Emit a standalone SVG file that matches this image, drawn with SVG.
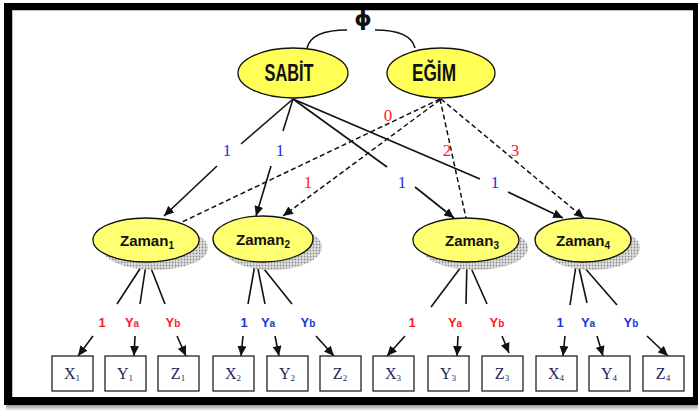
<svg xmlns="http://www.w3.org/2000/svg" width="698" height="411" viewBox="0 0 698 411">
  <style>
    .top { fill: #ffff55; stroke: #111; stroke-width: 1.3; }
    .zam { fill: #ffff72; stroke: #111; stroke-width: 1.3; }
    .shadow { fill: url(#dots); }
    .s { stroke: #111; stroke-width: 1.6; fill: none; }
    .d { stroke: #111; stroke-width: 1.5; fill: none; stroke-dasharray: 5 3; }
    .arr { marker-end: url(#ah); }
    .box { fill: #fff; stroke: #222; stroke-width: 1.3; }
    .big { font-family: "Liberation Sans", Arial, sans-serif; font-weight: bold; font-size: 23px; fill: #111; text-anchor: middle; }
    .zt { font-family: "Liberation Sans", Arial, sans-serif; font-weight: bold; font-size: 15px; fill: #111; text-anchor: middle; }
    .num { font-family: "Liberation Serif", "Times New Roman", serif; font-size: 17px; text-anchor: middle; }
    .lab { font-family: "Liberation Sans", Arial, sans-serif; font-weight: bold; font-size: 13px; text-anchor: middle; }
    .bx { font-family: "Liberation Serif", "Times New Roman", serif; font-size: 16px; fill: #26265c; text-anchor: middle; }
    .red { fill: #ff1a1a; }
    .blue { fill: #2233dd; }
  </style>
  <defs>
    <marker id="ah" markerUnits="userSpaceOnUse" markerWidth="11" markerHeight="9" refX="10" refY="4.5" orient="auto">
      <path d="M0,0 L10,4.5 L0,9 z" fill="#111"/>
    </marker>
    <pattern id="dots" width="3" height="3" patternUnits="userSpaceOnUse">
      <rect width="3" height="3" fill="#e2e2e2"/>
      <circle cx="1.5" cy="1.5" r="0.9" fill="#8a8a8a"/>
    </pattern>
    <linearGradient id="fade" x1="0" y1="0" x2="0" y2="1">
      <stop offset="0" stop-color="#999"/>
      <stop offset="1" stop-color="#fff"/>
    </linearGradient>
  </defs>

  <!-- page frame -->
  <rect width="698" height="411" fill="#fff"/>
  <rect x="6" y="405" width="692" height="6" fill="url(#fade)"/>
  <path d="M4,3 H698 V405 H4 Z M12,10 V397 H693 V10 Z" fill="#000" fill-rule="evenodd"/>
  <path d="M12.5,397 V10.5 H693" fill="none" stroke="#bbb" stroke-width="1"/>

  <!-- connectors -->
  <g id="connectors">
    <!-- phi covariance arc -->
    <path class="s" d="M307,48 C310,36 324,30 347,30"/>
    <path class="s" d="M375,30 C398,30 412,36 415,48"/>

    <!-- SABİT loadings -->
    <line class="s" x1="293" y1="99" x2="241" y2="144"/>
    <line class="s arr" x1="217" y1="166" x2="164" y2="216"/>
    <line class="s" x1="293" y1="99" x2="283" y2="131"/>
    <line class="s arr" x1="271" y1="166" x2="256" y2="216"/>
    <line class="s" x1="293" y1="99" x2="387" y2="167"/>
    <line class="s arr" x1="415" y1="187" x2="454" y2="218"/>
    <line class="s" x1="293" y1="99" x2="480" y2="179"/>
    <line class="s arr" x1="508" y1="192" x2="563" y2="218"/>

    <!-- EĞİM loadings -->
    <line class="d" x1="440" y1="99" x2="182" y2="222"/>
    <line class="d arr" x1="440" y1="100" x2="283" y2="216"/>
    <line class="d" x1="440" y1="99" x2="466" y2="218"/>
    <line class="d arr" x1="441" y1="99" x2="584" y2="218"/>

    <!-- Zaman1 indicators -->
    <line class="s" x1="147" y1="258" x2="117" y2="304"/>
    <line class="s" x1="147" y1="258" x2="140" y2="304"/>
    <line class="s" x1="147" y1="258" x2="165" y2="304"/>
    <line class="s arr" x1="93" y1="336" x2="78" y2="356"/>
    <line class="s arr" x1="135" y1="336" x2="134" y2="356"/>
    <line class="s arr" x1="177" y1="336" x2="186" y2="356"/>

    <!-- Zaman2 indicators -->
    <line class="s" x1="256" y1="259" x2="248" y2="304"/>
    <line class="s" x1="256" y1="259" x2="265" y2="304"/>
    <line class="s" x1="256" y1="259" x2="292" y2="304"/>
    <line class="s arr" x1="243" y1="336" x2="241" y2="356"/>
    <line class="s arr" x1="275" y1="336" x2="279" y2="356"/>
    <line class="s arr" x1="316" y1="336" x2="334" y2="356"/>

    <!-- Zaman3 indicators -->
    <line class="s" x1="467" y1="259" x2="431" y2="307"/>
    <line class="s" x1="467" y1="259" x2="466" y2="304"/>
    <line class="s" x1="467" y1="259" x2="487" y2="304"/>
    <line class="s arr" x1="405" y1="336" x2="387" y2="356"/>
    <line class="s arr" x1="458" y1="336" x2="457" y2="356"/>
    <line class="s arr" x1="502" y1="336" x2="509" y2="353"/>

    <!-- Zaman4 indicators -->
    <line class="s" x1="577" y1="259" x2="570" y2="305"/>
    <line class="s" x1="577" y1="259" x2="587" y2="303"/>
    <line class="s" x1="577" y1="259" x2="617" y2="305"/>
    <line class="s arr" x1="565" y1="336" x2="563" y2="356"/>
    <line class="s arr" x1="597" y1="336" x2="603" y2="356"/>
    <line class="s arr" x1="647" y1="336" x2="668" y2="356"/>

    <!-- loading values -->
    <text class="num blue" x="227" y="156">1</text>
    <text class="num blue" x="280" y="156">1</text>
    <text class="num red" x="388" y="121">0</text>
    <text class="num red" x="308" y="188">1</text>
    <text class="num red" x="447" y="156">2</text>
    <text class="num red" x="515" y="156">3</text>
    <text class="num blue" x="402" y="188">1</text>
    <text class="num blue" x="495" y="188">1</text>

    <text class="lab red" x="102" y="327">1</text>
    <text class="lab red" x="132" y="327">Y<tspan font-size="10">a</tspan></text>
    <text class="lab red" x="173" y="327">Y<tspan font-size="10">b</tspan></text>
    <text class="lab blue" x="244" y="327">1</text>
    <text class="lab blue" x="268" y="327">Y<tspan font-size="10">a</tspan></text>
    <text class="lab blue" x="308" y="327">Y<tspan font-size="10">b</tspan></text>
    <text class="lab red" x="412" y="327">1</text>
    <text class="lab red" x="455" y="327">Y<tspan font-size="10">a</tspan></text>
    <text class="lab red" x="497" y="327">Y<tspan font-size="10">b</tspan></text>
    <text class="lab blue" x="560" y="327">1</text>
    <text class="lab blue" x="588" y="327">Y<tspan font-size="10">a</tspan></text>
    <text class="lab blue" x="631" y="327">Y<tspan font-size="10">b</tspan></text>
  </g>

  <text x="363" y="26" font-family="'DejaVu Sans', sans-serif" font-weight="bold" font-size="22" text-anchor="middle" fill="#111">ϕ</text>

  <!-- growth factors -->
  <g id="sabit">
    <ellipse class="top" cx="293" cy="73" rx="55" ry="25"/>
    <text class="big" x="289" y="81" textLength="49" lengthAdjust="spacingAndGlyphs">SABİT</text>
  </g>
  <g id="egim">
    <ellipse class="top" cx="441" cy="73" rx="54" ry="25"/>
    <text class="big" x="434" y="81" textLength="44" lengthAdjust="spacingAndGlyphs">EĞİM</text>
  </g>

  <!-- time points -->
  <g id="zaman1">
    <ellipse class="shadow" cx="155" cy="248" rx="53" ry="22"/>
    <ellipse class="zam" cx="146" cy="240" rx="53" ry="22"/>
    <text class="zt" x="147" y="246">Zaman<tspan font-size="10" dy="3">1</tspan></text>
  </g>
  <g id="zaman2">
    <ellipse class="shadow" cx="272" cy="247" rx="50" ry="23"/>
    <ellipse class="zam" cx="263" cy="239" rx="50" ry="23"/>
    <text class="zt" x="263" y="245">Zaman<tspan font-size="10" dy="3">2</tspan></text>
  </g>
  <g id="zaman3">
    <ellipse class="shadow" cx="475" cy="248" rx="53" ry="22"/>
    <ellipse class="zam" cx="466" cy="240" rx="53" ry="22"/>
    <text class="zt" x="472" y="246">Zaman<tspan font-size="10" dy="3">3</tspan></text>
  </g>
  <g id="zaman4">
    <ellipse class="shadow" cx="592" cy="248" rx="48" ry="22"/>
    <ellipse class="zam" cx="583" cy="240" rx="48" ry="22"/>
    <text class="zt" x="583" y="246">Zaman<tspan font-size="10" dy="3">4</tspan></text>
  </g>

  <!-- observed measures -->
  <g id="x1"><rect class="box" x="52" y="356" width="41" height="35"/><text class="bx" x="72" y="379">X<tspan font-size="9" dy="2">1</tspan></text></g>
  <g id="y1"><rect class="box" x="105" y="356" width="41" height="35"/><text class="bx" x="125" y="379">Y<tspan font-size="9" dy="2">1</tspan></text></g>
  <g id="z1"><rect class="box" x="158" y="356" width="41" height="35"/><text class="bx" x="178" y="379">Z<tspan font-size="9" dy="2">1</tspan></text></g>
  <g id="x2"><rect class="box" x="213" y="356" width="41" height="35"/><text class="bx" x="233" y="379">X<tspan font-size="9" dy="2">2</tspan></text></g>
  <g id="y2"><rect class="box" x="267" y="356" width="41" height="35"/><text class="bx" x="287" y="379">Y<tspan font-size="9" dy="2">2</tspan></text></g>
  <g id="z2"><rect class="box" x="320" y="356" width="41" height="35"/><text class="bx" x="340" y="379">Z<tspan font-size="9" dy="2">2</tspan></text></g>
  <g id="x3"><rect class="box" x="373" y="356" width="41" height="35"/><text class="bx" x="393" y="379">X<tspan font-size="9" dy="2">3</tspan></text></g>
  <g id="y3"><rect class="box" x="428" y="356" width="41" height="35"/><text class="bx" x="448" y="379">Y<tspan font-size="9" dy="2">3</tspan></text></g>
  <g id="z3"><rect class="box" x="482" y="356" width="41" height="35"/><text class="bx" x="502" y="379">Z<tspan font-size="9" dy="2">3</tspan></text></g>
  <g id="x4"><rect class="box" x="536" y="356" width="41" height="35"/><text class="bx" x="556" y="379">X<tspan font-size="9" dy="2">4</tspan></text></g>
  <g id="y4"><rect class="box" x="589" y="356" width="41" height="35"/><text class="bx" x="609" y="379">Y<tspan font-size="9" dy="2">4</tspan></text></g>
  <g id="z4"><rect class="box" x="643" y="356" width="41" height="35"/><text class="bx" x="663" y="379">Z<tspan font-size="9" dy="2">4</tspan></text></g>
</svg>
